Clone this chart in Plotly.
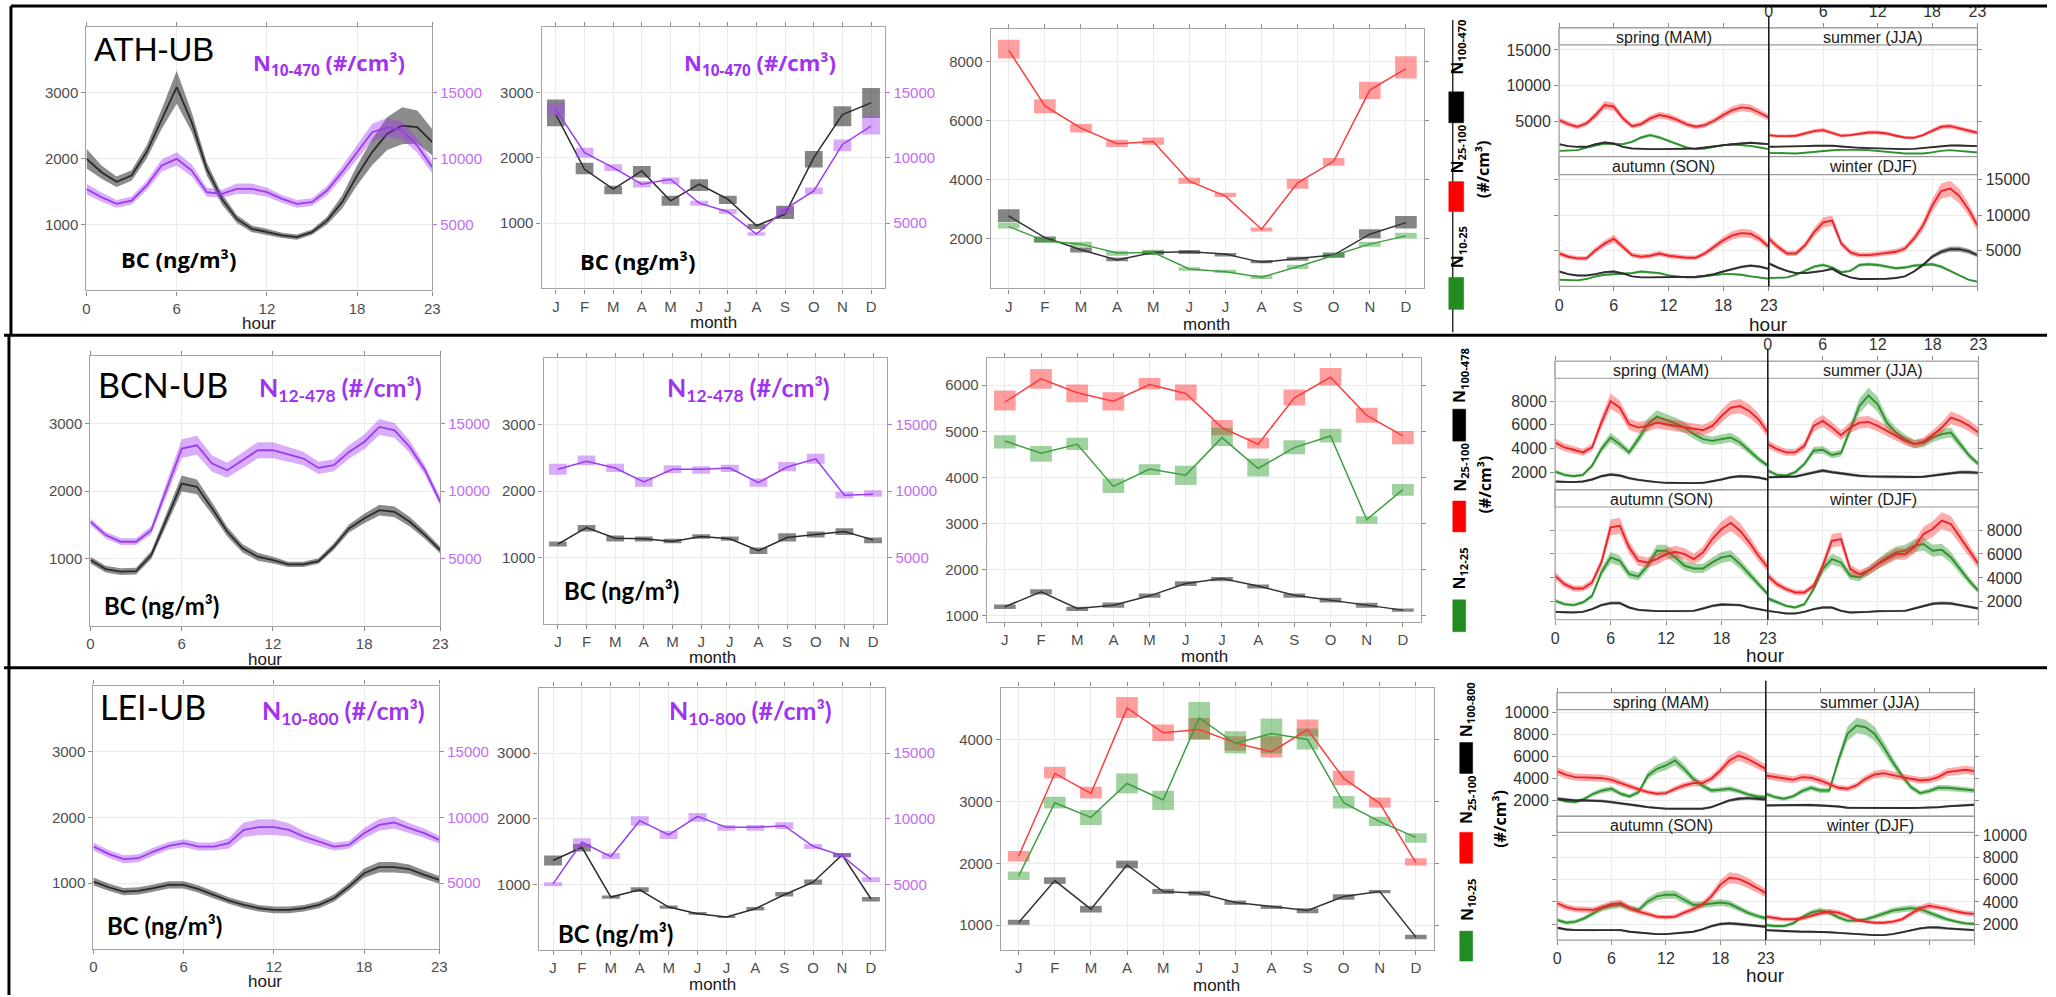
import plotly.graph_objects as go

W, H = 2056, 997

HOURS = list(range(24))
HOUR_TICKS = [0, 6, 12, 18, 23]
MONTHS = list(range(1, 13))
MONTH_LABELS = ["J", "F", "M", "A", "M", "J", "J", "A", "S", "O", "N", "D"]
SEASONS = ["spring (MAM)", "summer (JJA)", "autumn (SON)", "winter (DJF)"]

# ---------------- ATH-UB ----------------
ATH_BC_HOUR = [2000, 1795, 1650, 1745, 2100, 2600, 3085, 2555, 1845, 1390, 1085, 935, 885, 835, 810, 885, 1060, 1340, 1745, 2100, 2380, 2500, 2480, 2250]
ATH_BC_HOUR_CI = [150, 100, 80, 80, 100, 150, 250, 150, 100, 80, 60, 50, 50, 40, 40, 40, 60, 100, 150, 200, 250, 280, 250, 200]
ATH_N_HOUR = [7700, 7075, 6570, 6820, 7960, 9480, 9990, 9100, 7455, 7330, 7710, 7710, 7455, 6950, 6570, 6700, 7580, 8975, 10490, 12010, 12390, 12140, 11000, 9350]
ATH_N_HOUR_CI = [400, 350, 300, 300, 350, 450, 500, 450, 350, 300, 400, 400, 350, 300, 300, 300, 350, 450, 550, 650, 700, 650, 550, 450]

ATH_BC_MON = [2660, 1822, 1518, 1797, 1340, 1594, 1365, 960, 1137, 2000, 2660, 2838]
ATH_BC_MON_LO = [2480, 1746, 1442, 1695, 1264, 1492, 1290, 909, 1061, 1848, 2482, 2609]
ATH_BC_MON_HI = [2890, 1924, 1569, 1873, 1416, 1670, 1416, 985, 1264, 2101, 2787, 3066]
ATH_N_MON = [13680, 10380, 9240, 7970, 8350, 6523, 5863, 4162, 6066, 7462, 11015, 12410]
ATH_N_MON_LO = [13170, 10000, 8985, 7716, 7970, 6320, 5685, 4036, 5685, 7208, 10500, 11776]
ATH_N_MON_HI = [14190, 10760, 9490, 8223, 8477, 6700, 6066, 4290, 6193, 7716, 11395, 13170]

ATH_N25_MON = [8393, 6502, 5748, 5219, 5298, 3947, 3440, 2315, 3891, 4622, 7042, 7774]
ATH_N25_LO = [8112, 6254, 5602, 5106, 5185, 3857, 3407, 2236, 3689, 4476, 6738, 7436]
ATH_N25_HI = [8754, 6727, 5894, 5354, 5433, 4060, 3553, 2371, 4026, 4735, 7323, 8190]
ATH_N100_MON = [2765, 2034, 1617, 1268, 1527, 1550, 1471, 1190, 1325, 1437, 2146, 2540]
ATH_N100_LO = [2563, 1865, 1527, 1224, 1449, 1471, 1392, 1156, 1246, 1358, 2011, 2338]
ATH_N100_HI = [2990, 2068, 1696, 1358, 1584, 1606, 1505, 1268, 1381, 1527, 2315, 2765]
ATH_N10_MON = [2405, 1921, 1809, 1505, 1527, 964, 875, 683, 1043, 1415, 1809, 2090]
ATH_N10_LO = [2338, 1865, 1719, 1415, 1437, 908, 830, 627, 965, 1336, 1719, 1998]
ATH_N10_HI = [2540, 2034, 1887, 1584, 1617, 1021, 942, 762, 1111, 1471, 1887, 2200]

ATH_MAM_N25 = [5140, 4577, 4200, 4671, 5845, 7254, 7019, 5375, 4295, 4577, 5375, 5845, 5610, 5140, 4530, 4200, 4436, 5047, 5845, 6550, 6925, 6784, 6174, 5516]
ATH_MAM_N100 = [1760, 1479, 1385, 1385, 1760, 1995, 1854, 1385, 1150, 1056, 1056, 1056, 1056, 1056, 1103, 1150, 1291, 1479, 1620, 1760, 1854, 1948, 1854, 1760]
ATH_MAM_N10 = [822, 822, 915, 1291, 1620, 1854, 1760, 1760, 2089, 2700, 3028, 2700, 2230, 1760, 1291, 1056, 1150, 1385, 1620, 1713, 1620, 1526, 1291, 1056]
ATH_JJA_N25 = [3028, 2887, 2887, 2934, 3263, 3592, 3732, 3357, 2934, 3028, 3263, 3404, 3404, 3263, 2934, 2700, 2653, 3028, 3638, 4200, 4295, 3967, 3592, 3357]
ATH_JJA_N100 = [1385, 1385, 1385, 1430, 1480, 1530, 1573, 1530, 1430, 1300, 1244, 1200, 1150, 1150, 1100, 1056, 1100, 1200, 1385, 1480, 1573, 1573, 1530, 1479]
ATH_JJA_N10 = [540, 500, 470, 446, 550, 700, 822, 900, 960, 1010, 960, 915, 800, 680, 550, 446, 446, 446, 600, 822, 915, 800, 700, 587]
ATH_SON_N25 = [4631, 4171, 3940, 3940, 5092, 6014, 6705, 5553, 4401, 4171, 4309, 4631, 4309, 4171, 4032, 4032, 4631, 5553, 6475, 7166, 7488, 7396, 6705, 5553]
ATH_SON_N100 = [2097, 1728, 1544, 1544, 1728, 2005, 2097, 1820, 1406, 1267, 1267, 1267, 1267, 1267, 1267, 1359, 1498, 1728, 2097, 2465, 2742, 2926, 2788, 2465]
ATH_SON_N10 = [944, 853, 853, 1037, 1406, 1636, 1728, 1728, 1866, 2097, 2005, 1866, 1544, 1359, 1267, 1267, 1406, 1636, 1728, 1728, 1636, 1406, 1267, 1083]
ATH_DJF_N25 = [6705, 5553, 4631, 4631, 5783, 7627, 9009, 9240, 6014, 4770, 4401, 4401, 4539, 4724, 4862, 5323, 6705, 8548, 11313, 13387, 13756, 12696, 10853, 8548]
ATH_DJF_N100 = [3249, 2650, 2189, 1866, 1866, 2005, 2189, 2465, 1728, 1267, 1037, 1037, 1037, 1083, 1175, 1406, 2097, 3018, 4171, 4862, 5230, 5230, 4954, 4401]
ATH_DJF_N10 = [1175, 1175, 1267, 1636, 2189, 2788, 3018, 2650, 2005, 2189, 3018, 3110, 3018, 2788, 2558, 2650, 2926, 3018, 3110, 2788, 2189, 1544, 944, 650]

# ---------------- BCN-UB ----------------
BCN_BC_HOUR = [975, 842, 802, 812, 1049, 1593, 2111, 2062, 1741, 1395, 1148, 1025, 975, 911, 911, 960, 1173, 1444, 1593, 1716, 1691, 1543, 1346, 1123]
BCN_BC_HOUR_CI = [50, 50, 50, 50, 60, 90, 120, 110, 90, 70, 60, 60, 50, 40, 40, 40, 50, 60, 70, 80, 80, 70, 60, 50]
BCN_N_HOUR = [7716, 6728, 6235, 6235, 7099, 10185, 13148, 13395, 12037, 11543, 12284, 13025, 13025, 12704, 12407, 11716, 11914, 12900, 13642, 14753, 14506, 13272, 11543, 9198]
BCN_N_HOUR_CI = [250, 250, 250, 250, 300, 500, 700, 700, 600, 550, 550, 600, 600, 550, 500, 450, 450, 500, 550, 600, 550, 450, 350, 300]

BCN_BC_MON = [1200, 1449, 1289, 1279, 1239, 1314, 1279, 1100, 1299, 1349, 1389, 1264]
BCN_BC_MON_LO = [1165, 1389, 1239, 1239, 1214, 1279, 1250, 1050, 1239, 1299, 1339, 1214]
BCN_BC_MON_HI = [1239, 1489, 1329, 1314, 1279, 1349, 1314, 1150, 1364, 1389, 1439, 1299]
BCN_N_MON = [11633, 12232, 11733, 10686, 11633, 11633, 11733, 10636, 11808, 12431, 9688, 9763]
BCN_N_MON_LO = [11234, 11933, 11434, 10312, 11359, 11309, 11434, 10312, 11484, 12057, 9439, 9563]
BCN_N_MON_HI = [12057, 12680, 12057, 11060, 11933, 11858, 11983, 10935, 12182, 12805, 9938, 10062]

BCN_N25_MON = [5633, 6137, 5835, 5655, 6014, 5820, 5079, 4719, 5727, 6173, 5345, 4899]
BCN_N25_LO = [5453, 5921, 5633, 5453, 5906, 5669, 4914, 4626, 5561, 5993, 5187, 4719]
BCN_N25_HI = [5885, 6353, 6014, 5849, 6158, 6014, 5245, 4863, 5906, 6374, 5511, 5007]
BCN_N12_MON = [4791, 4525, 4719, 3806, 4180, 4050, 4863, 4194, 4647, 4899, 3086, 3734]
BCN_N12_LO = [4626, 4338, 4597, 3662, 4050, 3835, 4683, 4022, 4504, 4755, 2993, 3604]
BCN_N12_HI = [4914, 4683, 4863, 3978, 4288, 4252, 5079, 4410, 4806, 5058, 3158, 3856]
BCN_N100_MON = [1194, 1518, 1158, 1230, 1432, 1698, 1806, 1647, 1446, 1338, 1230, 1122]
BCN_N100_LO = [1144, 1460, 1101, 1173, 1388, 1647, 1748, 1590, 1388, 1288, 1173, 1086]
BCN_N100_HI = [1244, 1575, 1194, 1288, 1482, 1748, 1842, 1676, 1482, 1388, 1281, 1158]

BCN_MAM_N25 = [4512, 4093, 3898, 3675, 4093, 6186, 8000, 7442, 6047, 5768, 5907, 6186, 6047, 5907, 5768, 5684, 5544, 5907, 6745, 7442, 7582, 7163, 6466, 5349]
BCN_MAM_N100 = [1219, 1163, 1163, 1219, 1386, 1665, 1805, 1721, 1498, 1358, 1247, 1163, 1107, 1079, 1051, 1079, 1107, 1219, 1386, 1581, 1665, 1637, 1553, 1386]
BCN_MAM_N12 = [2056, 1777, 1665, 1777, 2558, 3954, 4930, 4372, 3675, 4791, 6047, 6689, 6410, 6131, 5768, 5210, 4791, 4651, 4791, 4930, 4512, 3814, 3116, 2558]
BCN_JJA_N25 = [4372, 3954, 3675, 3675, 4233, 5907, 6326, 5768, 5126, 5768, 6186, 6242, 5907, 5489, 5070, 4651, 4372, 4568, 5126, 5768, 6605, 6326, 5907, 5349]
BCN_JJA_N100 = [1581, 1600, 1620, 1637, 1800, 2000, 2140, 2000, 1900, 1777, 1700, 1650, 1637, 1600, 1590, 1581, 1600, 1620, 1721, 1850, 1944, 2000, 2000, 1944]
BCN_JJA_N12 = [2140, 1777, 1721, 2000, 2698, 3814, 3898, 3451, 3619, 5628, 7582, 8475, 7721, 6186, 5349, 4791, 4372, 4456, 4930, 5210, 5349, 4372, 3395, 2698]
BCN_SON_N25 = [4177, 3479, 3116, 3116, 3619, 5293, 8224, 8363, 6549, 5433, 5293, 5572, 5991, 6186, 5991, 5572, 6131, 7247, 8084, 8587, 7945, 6968, 5851, 4875]
BCN_SON_N100 = [1163, 1107, 1107, 1163, 1386, 1721, 1888, 1888, 1526, 1330, 1247, 1219, 1219, 1219, 1219, 1247, 1442, 1665, 1777, 1777, 1721, 1526, 1386, 1247]
BCN_SON_N12 = [2084, 1805, 1721, 1944, 2502, 4456, 5712, 5433, 4316, 4121, 5014, 6270, 6270, 5712, 5014, 4791, 4791, 5293, 5712, 5851, 5154, 4316, 3479, 2642]
BCN_DJF_N25 = [4177, 3479, 3061, 2781, 2781, 3340, 5014, 7107, 7247, 4735, 4316, 4596, 5154, 5572, 5991, 5991, 6549, 7666, 8084, 8782, 8503, 7386, 6270, 5154]
BCN_DJF_N100 = [1247, 1107, 1023, 1023, 1163, 1386, 1526, 1526, 1247, 1107, 1107, 1163, 1219, 1219, 1247, 1247, 1442, 1665, 1833, 1888, 1861, 1721, 1581, 1442]
BCN_DJF_N12 = [2279, 1944, 1665, 1526, 1805, 3061, 4735, 5572, 5293, 4177, 4037, 4596, 5154, 5712, 6131, 6270, 6689, 6828, 6270, 6354, 5712, 4735, 3758, 2921]

# ---------------- LEI-UB ----------------
LEI_BC_HOUR = [1025, 939, 873, 884, 924, 975, 975, 909, 823, 737, 671, 620, 595, 595, 620, 671, 772, 949, 1152, 1243, 1243, 1213, 1127, 1051]
LEI_BC_HOUR_CI = [60, 55, 55, 55, 55, 55, 55, 55, 55, 50, 50, 50, 50, 50, 50, 50, 55, 60, 70, 80, 80, 70, 65, 60]
LEI_N_HOUR = [7785, 7228, 6823, 6899, 7405, 7835, 8038, 7785, 7785, 8038, 9051, 9253, 9253, 9051, 8544, 8165, 7785, 7911, 8797, 9430, 9608, 9177, 8797, 8291]
LEI_N_HOUR_CI = [300, 300, 300, 300, 300, 300, 300, 300, 300, 400, 550, 600, 600, 500, 400, 350, 300, 300, 400, 450, 450, 400, 350, 300]

LEI_BC_MON = [1365, 1567, 808, 919, 656, 554, 504, 630, 843, 1035, 1451, 782]
LEI_BC_MON_LO = [1289, 1501, 782, 884, 630, 539, 489, 605, 818, 995, 1415, 742]
LEI_BC_MON_HI = [1441, 1618, 833, 959, 681, 580, 519, 656, 884, 1076, 1481, 808]
LEI_N_MON = [5051, 8215, 7127, 9861, 8772, 10190, 9354, 9354, 9481, 7911, 7203, 5380]
LEI_N_MON_LO = [4873, 7835, 6949, 9481, 8468, 9785, 9101, 9101, 9228, 7709, 7076, 5177]
LEI_N_MON_HI = [5177, 8519, 7405, 10190, 9101, 10443, 9532, 9532, 9734, 8089, 7329, 5557]

LEI_N25_MON = [2118, 3452, 3129, 4511, 4108, 4161, 3946, 3801, 4161, 3371, 2968, 2011]
LEI_N25_LO = [2027, 3371, 3048, 4349, 3978, 4000, 3817, 3710, 4054, 3263, 2903, 1962]
LEI_N25_HI = [2199, 3559, 3237, 4688, 4242, 4349, 4054, 4054, 4323, 3495, 3065, 2081]
LEI_N10_MON = [1796, 2978, 2742, 3290, 3022, 4349, 3935, 4097, 4000, 2978, 2672, 2419]
LEI_N10_LO = [1731, 2887, 2618, 3129, 2860, 4000, 3774, 3774, 3839, 2887, 2602, 2333]
LEI_N10_HI = [1866, 3075, 2860, 3452, 3172, 4608, 4134, 4339, 4177, 3086, 2753, 2484]
LEI_N100_MON = [1043, 1720, 1258, 1973, 1543, 1516, 1366, 1301, 1237, 1462, 1543, 806]
LEI_N100_LO = [1005, 1667, 1204, 1919, 1505, 1478, 1328, 1263, 1194, 1409, 1516, 774]
LEI_N100_HI = [1086, 1774, 1312, 2043, 1586, 1554, 1398, 1317, 1274, 1500, 1570, 844]

LEI_MAM_N25 = [4675, 4340, 4128, 4067, 4067, 4036, 3884, 3581, 3277, 3003, 2760, 2608, 2669, 3064, 3368, 3581, 3581, 3976, 4736, 5647, 6103, 5799, 5343, 4888]
LEI_MAM_N100 = [2152, 2061, 2000, 2000, 2000, 1939, 1848, 1757, 1635, 1514, 1392, 1301, 1240, 1240, 1240, 1240, 1240, 1392, 1696, 2000, 2152, 2213, 2152, 2091]
LEI_MAM_N10 = [2152, 1909, 1848, 2152, 2608, 2912, 3064, 2608, 2365, 2760, 4280, 4888, 5191, 5647, 4888, 3976, 3368, 2912, 2973, 3064, 2851, 2547, 2365, 2304]
LEI_JJA_N25 = [4280, 4128, 3976, 3884, 4128, 4067, 3824, 3459, 3155, 3064, 3368, 3976, 4371, 4492, 4280, 4128, 3976, 3824, 3884, 4128, 4584, 4675, 4796, 4675]
LEI_JJA_N100 = [1544, 1560, 1580, 1605, 1605, 1580, 1544, 1500, 1450, 1331, 1320, 1310, 1301, 1301, 1301, 1301, 1310, 1320, 1331, 1380, 1453, 1500, 1560, 1605]
LEI_JJA_N10 = [2608, 2304, 2152, 2365, 2851, 3155, 2912, 2912, 5647, 8079, 8839, 8687, 8079, 6863, 5495, 4280, 3216, 2669, 2851, 3155, 3155, 3064, 2973, 2912]
LEI_SON_N25 = [3893, 3527, 3344, 3282, 3282, 3527, 3802, 3893, 3435, 3130, 2916, 2672, 2611, 2672, 3038, 3344, 3740, 4504, 5573, 6183, 6092, 5725, 5267, 4809]
LEI_SON_N100 = [1664, 1511, 1450, 1450, 1450, 1511, 1511, 1450, 1298, 1206, 1145, 1084, 1084, 1145, 1206, 1298, 1511, 1817, 2000, 2061, 2000, 1908, 1817, 1756]
LEI_SON_N10 = [2366, 2122, 2214, 2519, 2977, 3435, 3649, 3740, 3435, 3282, 4046, 4504, 4656, 4656, 4198, 3740, 3740, 3832, 3954, 3832, 3435, 3038, 2733, 2519]
LEI_DJF_N25 = [2672, 2519, 2427, 2427, 2519, 2733, 2977, 3130, 3038, 2733, 2366, 2214, 2122, 2122, 2214, 2427, 2916, 3435, 3649, 3527, 3344, 3130, 2977, 2916]
LEI_DJF_N100 = [1450, 1400, 1350, 1298, 1298, 1298, 1298, 1250, 1200, 1145, 1080, 1030, 992, 992, 1084, 1250, 1450, 1603, 1695, 1695, 1603, 1550, 1500, 1450]
LEI_DJF_N10 = [1908, 1817, 1817, 2061, 2611, 3038, 3221, 3038, 2611, 2305, 2305, 2427, 2672, 2916, 3221, 3344, 3435, 3344, 3038, 2672, 2427, 2214, 2061, 2000]

# Fractional width of the seasonal confidence bands (estimated)
BAND_FRAC_RED = 0.08
BAND_FRAC_GREEN = 0.08
BAND_FRAC_BLACK = 0.07

# ---------------- styling ----------------
TICK_FAMILY = "Liberation Sans, Arial, sans-serif"
TICKFONT = dict(family=TICK_FAMILY, size=15, color="#4d4d4d")
GRID = "#ebebeb"
FRAME = "#a3a3a3"
TICKC = "#8c8c8c"
VIOLET_TXT = "#a033f0"
VIOLET_TICK = "#bf6cf5"
BC_BAND = "rgba(0,0,0,0.45)"
BC_LINE = "#2b2b2b"
N_BAND = "rgba(160,50,240,0.40)"
N_LINE = "#9a3cf0"
BC_BOX = "rgba(0,0,0,0.48)"
N_BOX = "rgba(170,70,245,0.45)"
RED_BOX = "rgba(255,40,40,0.45)"
GREEN_BOX = "rgba(45,155,45,0.45)"
RED_LINE = "#ff3b3b"
GREEN_LINE = "#3f9f3f"
BLACK_LINE = "#333333"
RED_BAND = "rgba(255,45,45,0.40)"
GREEN_BAND = "rgba(40,150,40,0.42)"
BLACK_BAND = "rgba(0,0,0,0.38)"
RED_FLINE = "#e8262b"
GREEN_FLINE = "#2f922f"
BLACK_FLINE = "#2d2d2d"

fig = go.Figure()
lay = dict(width=W, height=H, margin=dict(l=0, r=0, t=0, b=0), paper_bgcolor="white",
           plot_bgcolor="white", showlegend=False, barmode="overlay")
shapes = []
annots = []
cnt = {"x": 0, "y": 0}


def new_ax(kind):
    cnt[kind] += 1
    n = cnt[kind]
    s = "" if n == 1 else str(n)
    return kind + s, kind + "axis" + s


def xd(a, b):
    return [a / W, b / W]


def yd(a, b):
    return [1 - b / H, 1 - a / H]


def px(x):
    return x / W


def py(y):
    return 1 - y / H


def ax_common():
    return dict(showgrid=True, gridcolor=GRID, gridwidth=1, zeroline=False,
                ticks="outside", ticklen=4, tickwidth=1, tickcolor=TICKC, tickformat="d",
                tickfont=dict(TICKFONT), showline=True, linecolor=FRAME, linewidth=1.3)


def ann(x, y, text, size, color="#000000", bold=False, xanchor="center", yanchor="middle",
        angle=0, family="Open Sans, sans-serif"):
    if bold:
        text = "<b>" + text + "</b>"
    annots.append(dict(x=px(x), y=py(y), xref="paper", yref="paper", text=text, showarrow=False,
                       xanchor=xanchor, yanchor=yanchor, textangle=angle,
                       font=dict(family=family, size=size, color=color)))


def hline(x0, x1, y, width=3, color="#000000"):
    shapes.append(dict(type="line", xref="paper", yref="paper", x0=px(x0), x1=px(x1), y0=py(y), y1=py(y),
                       line=dict(color=color, width=width), layer="above"))


def vline(x, y0, y1, width=3, color="#000000"):
    shapes.append(dict(type="line", xref="paper", yref="paper", x0=px(x), x1=px(x), y0=py(y0), y1=py(y1),
                       line=dict(color=color, width=width), layer="above"))


def rect(x0, x1, y0, y1, fill=None, line="#a3a3a3", lw=1.2, layer="above"):
    shapes.append(dict(type="rect", xref="paper", yref="paper", x0=px(x0), x1=px(x1), y0=py(y1), y1=py(y0),
                       fillcolor=fill if fill else "rgba(0,0,0,0)",
                       line=dict(color=line, width=lw), layer=layer))


def band(xr, yr, xs, lo, hi, color):
    fig.add_trace(go.Scatter(x=list(xs) + list(xs)[::-1], y=list(hi) + list(lo)[::-1], fill="toself",
                             fillcolor=color, line=dict(width=0), mode="lines", hoverinfo="skip",
                             xaxis=xr, yaxis=yr))


def line(xr, yr, xs, ys, color, width):
    fig.add_trace(go.Scatter(x=list(xs), y=list(ys), mode="lines", line=dict(color=color, width=width),
                             xaxis=xr, yaxis=yr))


def boxes(xr, yr, lo, hi, color, width=0.62):
    fig.add_trace(go.Bar(x=MONTHS, y=[h - l for h, l in zip(hi, lo)], base=lo, width=width,
                         marker=dict(color=color, line=dict(width=0)), xaxis=xr, yaxis=yr))


def right_axis(yr, xr):
    return dict(overlaying=yr, side="right", anchor=xr, range=[0, 20000], tickvals=[5000, 10000, 15000],
                tickformat="d", showgrid=False, zeroline=False, showline=False, ticks="outside", ticklen=4,
                tickcolor=VIOLET_TICK, tickfont=dict(family=TICK_FAMILY, size=15, color=VIOLET_TICK))


def diurnal(box, bc, bc_ci, n, n_ci):
    x0, x1, y0, y1 = box
    xr, xa = new_ax("x")
    yr, ya = new_ax("y")
    y2r, y2a = new_ax("y")
    lay[xa] = dict(ax_common(), domain=xd(x0, x1), anchor=yr, range=[0, 23], tickvals=HOUR_TICKS, mirror="ticks")
    lay[ya] = dict(ax_common(), domain=yd(y0, y1), anchor=xr, range=[0, 4000], tickvals=[1000, 2000, 3000], mirror=True)
    lay[y2a] = right_axis(yr, xr)
    band(xr, yr, HOURS, [v - c for v, c in zip(bc, bc_ci)], [v + c for v, c in zip(bc, bc_ci)], BC_BAND)
    line(xr, yr, HOURS, bc, BC_LINE, 1.8)
    band(xr, y2r, HOURS, [v - c for v, c in zip(n, n_ci)], [v + c for v, c in zip(n, n_ci)], N_BAND)
    line(xr, y2r, HOURS, n, N_LINE, 1.8)


def monthly(box, bc, bc_lo, bc_hi, n, n_lo, n_hi):
    x0, x1, y0, y1 = box
    xr, xa = new_ax("x")
    yr, ya = new_ax("y")
    y2r, y2a = new_ax("y")
    lay[xa] = dict(ax_common(), domain=xd(x0, x1), anchor=yr, range=[0.5, 12.5], tickvals=MONTHS,
                   ticktext=MONTH_LABELS, mirror="ticks")
    lay[ya] = dict(ax_common(), domain=yd(y0, y1), anchor=xr, range=[0, 4000], tickvals=[1000, 2000, 3000], mirror=True)
    lay[y2a] = right_axis(yr, xr)
    boxes(xr, yr, bc_lo, bc_hi, BC_BOX)
    line(xr, yr, MONTHS, bc, BC_LINE, 1.5)
    boxes(xr, y2r, n_lo, n_hi, N_BOX)
    line(xr, y2r, MONTHS, n, N_LINE, 1.5)


def sizes(box, rng, ticks, red, black, green):
    x0, x1, y0, y1 = box
    xr, xa = new_ax("x")
    yr, ya = new_ax("y")
    lay[xa] = dict(ax_common(), domain=xd(x0, x1), anchor=yr, range=[0.5, 12.5], tickvals=MONTHS,
                   ticktext=MONTH_LABELS, mirror="ticks")
    lay[ya] = dict(ax_common(), domain=yd(y0, y1), anchor=xr, range=rng, tickvals=ticks, mirror="ticks")
    for (m, lo, hi), bcol in ((red, RED_BOX), (black, BC_BOX), (green, GREEN_BOX)):
        boxes(xr, yr, lo, hi, bcol, 0.6)
    for (m, lo, hi), lcol in ((red, RED_LINE), (black, BLACK_LINE), (green, GREEN_LINE)):
        line(xr, yr, MONTHS, m, lcol, 1.5)


def facets(xcols, yrows, rng, ticks, season_data, top_labels):
    xl, xm, xr_ = xcols
    s1t, s1b, p1b, s2b, p2b = yrows
    span = rng[1] - rng[0]
    top_hi = rng[1] + span * (s1b - s1t) / (p1b - s1b)
    bot_hi = rng[1] + span * (s2b - p1b) / (p2b - s2b)
    cells = [
        (xl, xm, s1t, s1b, p1b, top_hi, "top", False, "left", True),
        (xm, xr_, s1t, s1b, p1b, top_hi, "top", top_labels, "right", False),
        (xl, xm, p1b, s2b, p2b, bot_hi, "bottom", True, "left", False),
        (xm, xr_, p1b, s2b, p2b, bot_hi, "bottom", False, "right", True),
    ]
    for k, (a, b, st, sb, pb, hi, xside, xlab, yside, ylab) in enumerate(cells):
        xr, xa = new_ax("x")
        yr, ya = new_ax("y")
        tf = dict(family=TICK_FAMILY, size=16, color="#333333")
        lay[xa] = dict(domain=xd(a, b), anchor=yr, range=[0, 23], tickvals=HOUR_TICKS, side=xside,
                       showticklabels=xlab, ticks="outside", ticklen=4, tickcolor=TICKC, tickfont=tf,
                       showgrid=True, gridcolor=GRID, zeroline=False, showline=False)
        lay[ya] = dict(domain=yd(st, pb), anchor=xr, range=[rng[0], hi], tickvals=ticks, side=yside,
                       tickformat="d", showticklabels=ylab, ticks="outside", ticklen=4, tickcolor=TICKC,
                       tickfont=tf, showgrid=True, gridcolor=GRID, zeroline=False, showline=False)
        n25, n100, nsmall = season_data[k]
        for vals, frac, bcol, lcol in ((nsmall, BAND_FRAC_GREEN, GREEN_BAND, GREEN_FLINE),
                                       (n100, BAND_FRAC_BLACK, BLACK_BAND, BLACK_FLINE),
                                       (n25, BAND_FRAC_RED, RED_BAND, RED_FLINE)):
            band(xr, yr, HOURS, [v * (1 - frac) for v in vals], [v * (1 + frac) for v in vals], bcol)
            line(xr, yr, HOURS, vals, lcol, 1.9)
        rect(a, b, st, pb, None, "#9a9a9a", 1.2)
        rect(a, b, st, sb, "#ffffff", "#9a9a9a", 1.2)
        ann((a + b) / 2, (st + sb) / 2 + 1, SEASONS[k], 16, "#1a1a1a", family=TICK_FAMILY)
    vline(xm, s1t - 12, p2b, 1.5, "#1a1a1a")


def legend(xc, x0, x1, rects, labels, unit_pos):
    for (ya, yb), col in zip(rects, ["#000000", "#ff0000", "#228b22"]):
        rect(x0, x1, ya, yb, col, col, 0.5)
    for (yc, txt) in labels:
        ann(xc, yc, "N<sub>" + txt + "</sub>", 16, "#000000", bold=True, angle=-90)
    if unit_pos:
        ann(unit_pos[0], unit_pos[1], "(#/cm³)", 16, "#000000", bold=True, angle=-90)


# ---------------- frames ----------------
hline(7, W, 6)
hline(0, W, 336)
hline(0, W, 669)
vline(7, 6, 336)
vline(5, 336, H)
vline(1458, 20, 333, 1.2, "#000000")

# ---------------- Row 1: ATH ----------------
diurnal((83, 431, 27, 291), ATH_BC_HOUR, ATH_BC_HOUR_CI, ATH_N_HOUR, ATH_N_HOUR_CI)
monthly((541, 887, 27, 289), ATH_BC_MON, ATH_BC_MON_LO, ATH_BC_MON_HI, ATH_N_MON, ATH_N_MON_LO, ATH_N_MON_HI)
sizes((993, 1429, 29, 289), [305, 9119], [2000, 4000, 6000, 8000],
      (ATH_N25_MON, ATH_N25_LO, ATH_N25_HI), (ATH_N100_MON, ATH_N100_LO, ATH_N100_HI),
      (ATH_N10_MON, ATH_N10_LO, ATH_N10_HI))
facets((1565, 1776, 1986), (28, 45, 157, 175, 287), [0, 15700], [5000, 10000, 15000],
       [(ATH_MAM_N25, ATH_MAM_N100, ATH_MAM_N10), (ATH_JJA_N25, ATH_JJA_N100, ATH_JJA_N10),
        (ATH_SON_N25, ATH_SON_N100, ATH_SON_N10), (ATH_DJF_N25, ATH_DJF_N100, ATH_DJF_N10)], True)
legend(1463, 1454, 1469, [(92, 123), (182, 212), (278, 310)],
       [(47, "100-470"), (149, "25-100"), (248, "10-25")], (1488, 170))
ann(89, 50, "ATH-UB", 33, "#000000", xanchor="left", family="Liberation Sans, Arial, sans-serif")
ann(249, 64, "N<sub>10-470</sub> (#/cm³)", 22, VIOLET_TXT, bold=True, xanchor="left")
ann(116, 260, "BC (ng/m³)", 22, "#000000", bold=True, xanchor="left")
ann(682, 64, "N<sub>10-470</sub> (#/cm³)", 22, VIOLET_TXT, bold=True, xanchor="left")
ann(578, 262, "BC (ng/m³)", 22, "#000000", bold=True, xanchor="left")
ann(257, 324, "hour", 17, "#1a1a1a", family=TICK_FAMILY)
ann(714, 323, "month", 17, "#1a1a1a", family=TICK_FAMILY)
ann(1210, 325, "month", 17, "#1a1a1a", family=TICK_FAMILY)
ann(1776, 325, "hour", 19, "#1a1a1a", family=TICK_FAMILY)

# ---------------- Row 2: BCN ----------------
diurnal((87, 439, 357, 627), BCN_BC_HOUR, BCN_BC_HOUR_CI, BCN_N_HOUR, BCN_N_HOUR_CI)
monthly((543, 889, 359, 625), BCN_BC_MON, BCN_BC_MON_LO, BCN_BC_MON_HI, BCN_N_MON, BCN_N_MON_LO, BCN_N_MON_HI)
sizes((989, 1426, 359, 623), [870, 6584], [1000, 2000, 3000, 4000, 5000, 6000],
      (BCN_N25_MON, BCN_N25_LO, BCN_N25_HI), (BCN_N100_MON, BCN_N100_LO, BCN_N100_HI),
      (BCN_N12_MON, BCN_N12_LO, BCN_N12_HI))
facets((1561, 1775, 1987), (362, 379, 491, 508, 621), [500, 9930], [2000, 4000, 6000, 8000],
       [(BCN_MAM_N25, BCN_MAM_N100, BCN_MAM_N12), (BCN_JJA_N25, BCN_JJA_N100, BCN_JJA_N12),
        (BCN_SON_N25, BCN_SON_N100, BCN_SON_N12), (BCN_DJF_N25, BCN_DJF_N100, BCN_DJF_N12)], True)
legend(1465, 1458, 1471, [(410, 442), (502, 533), (601, 633)],
       [(376, "100-478"), (468, "25-100"), (570, "12-25")], (1490, 486))
ann(93, 385, "BCN-UB", 34, "#000000", xanchor="left", family="Lato, sans-serif")
ann(255, 390, "N<sub>12-478</sub> (#/cm³)", 25, VIOLET_TXT, bold=True, xanchor="left", family="Lato, sans-serif")
ann(99, 607, "BC (ng/m³)", 24, "#000000", bold=True, xanchor="left", family="Lato, sans-serif")
ann(665, 390, "N<sub>12-478</sub> (#/cm³)", 25, VIOLET_TXT, bold=True, xanchor="left", family="Lato, sans-serif")
ann(562, 592, "BC (ng/m³)", 24, "#000000", bold=True, xanchor="left", family="Lato, sans-serif")
ann(263, 661, "hour", 17, "#1a1a1a", family=TICK_FAMILY)
ann(713, 659, "month", 17, "#1a1a1a", family=TICK_FAMILY)
ann(1208, 658, "month", 17, "#1a1a1a", family=TICK_FAMILY)
ann(1773, 657, "hour", 19, "#1a1a1a", family=TICK_FAMILY)

# ---------------- Row 3: LEI ----------------
diurnal((90, 438, 687, 951), LEI_BC_HOUR, LEI_BC_HOUR_CI, LEI_N_HOUR, LEI_N_HOUR_CI)
monthly((538, 887, 689, 952), LEI_BC_MON, LEI_BC_MON_LO, LEI_BC_MON_HI, LEI_N_MON, LEI_N_MON_LO, LEI_N_MON_HI)
sizes((1003, 1439, 689, 952), [597, 4839], [1000, 2000, 3000, 4000],
      (LEI_N25_MON, LEI_N25_LO, LEI_N25_HI), (LEI_N100_MON, LEI_N100_LO, LEI_N100_HI),
      (LEI_N10_MON, LEI_N10_LO, LEI_N10_HI))
facets((1563, 1773, 1983), (694, 711, 818, 834, 942), [545, 10300], [2000, 4000, 6000, 8000, 10000],
       [(LEI_MAM_N25, LEI_MAM_N100, LEI_MAM_N10), (LEI_JJA_N25, LEI_JJA_N100, LEI_JJA_N10),
        (LEI_SON_N25, LEI_SON_N100, LEI_SON_N10), (LEI_DJF_N25, LEI_DJF_N100, LEI_DJF_N10)], False)
legend(1472, 1465, 1478, [(744, 775), (834, 865), (933, 963)],
       [(711, "100-800"), (801, "25-100"), (902, "10-25")], None)
ann(1506, 820, "(#/cm³)", 16, "#000000", bold=True, angle=-90)
ann(95, 708, "LEI-UB", 34, "#000000", xanchor="left", family="Lato, sans-serif")
ann(258, 713, "N<sub>10-800</sub> (#/cm³)", 25, VIOLET_TXT, bold=True, xanchor="left", family="Lato, sans-serif")
ann(102, 927, "BC (ng/m³)", 24, "#000000", bold=True, xanchor="left", family="Lato, sans-serif")
ann(667, 713, "N<sub>10-800</sub> (#/cm³)", 25, VIOLET_TXT, bold=True, xanchor="left", family="Lato, sans-serif")
ann(556, 935, "BC (ng/m³)", 24, "#000000", bold=True, xanchor="left", family="Lato, sans-serif")
ann(263, 983, "hour", 17, "#1a1a1a", family=TICK_FAMILY)
ann(713, 986, "month", 17, "#1a1a1a", family=TICK_FAMILY)
ann(1220, 987, "month", 17, "#1a1a1a", family=TICK_FAMILY)
ann(1773, 977, "hour", 19, "#1a1a1a", family=TICK_FAMILY)

lay["shapes"] = shapes
lay["annotations"] = annots
fig.update_layout(**lay)

fig.write_html("out.html", config={"displayModeBar": False},
               post_script="document.body.style.margin='0px';document.body.style.overflow='hidden';")
